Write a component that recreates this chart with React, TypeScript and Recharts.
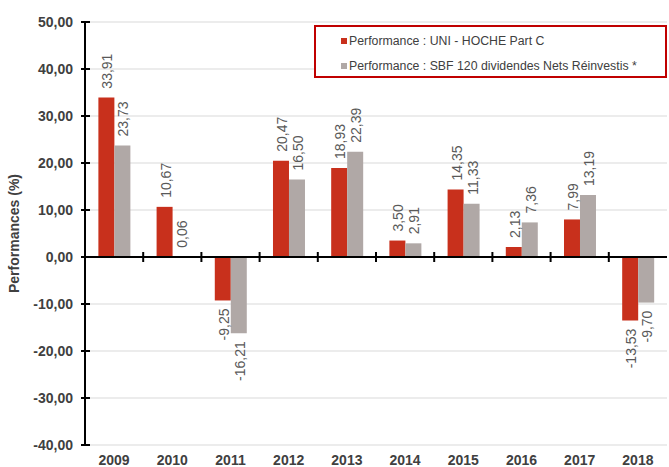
import React from 'react';
import {
  BarChart,
  Bar,
  XAxis,
  YAxis,
  CartesianGrid,
  ReferenceLine,
  LabelList,
} from 'recharts';

const years = ['2009', '2010', '2011', '2012', '2013', '2014', '2015', '2016', '2017', '2018'];
const uniHoche = [33.91, 10.67, -9.25, 20.47, 18.93, 3.5, 14.35, 2.13, 7.99, -13.53];
const sbf120 = [23.73, 0.06, -16.21, 16.5, 22.39, 2.91, 11.33, 7.36, 13.19, -9.7];
const yTicks = [-40, -30, -20, -10, 0, 10, 20, 30, 40, 50];

const seriesNames = {
  uni: 'Performance : UNI - HOCHE Part C',
  sbf: 'Performance : SBF 120 dividendes Nets Réinvestis *',
};

const RED = '#c8301c';
const GREY = '#b0a8a6';
const FONT = '"Liberation Sans", Arial, sans-serif';

const data = years.map((year, i) => ({ year, uni: uniHoche[i], sbf: sbf120[i] }));

const fmt = (v: number) => v.toFixed(2).replace('.', ',');

const YTick = (props: any) => {
  const { x, y, payload } = props;
  return (
    <g>
      <line x1={x - 4} y1={y} x2={x + 5} y2={y} stroke="#000" strokeWidth={2} />
      <text
        x={x - 12}
        y={y}
        textAnchor="end"
        dominantBaseline="central"
        fontFamily={FONT}
        fontSize={14}
        fontWeight="bold"
        fill="#404040"
      >
        {fmt(payload.value)}
      </text>
    </g>
  );
};

const BarLabel = (props: any) => {
  const { x, y, width, height, value } = props;
  const top = Math.min(y, y + height);
  const bottom = Math.max(y, y + height);
  const cx = x + width / 2 + 1;
  const positive = value >= 0;
  const ly = positive ? top - 9 : bottom + 8;
  return (
    <text
      x={cx}
      y={ly}
      transform={`rotate(-90 ${cx} ${ly})`}
      textAnchor={positive ? 'start' : 'end'}
      dominantBaseline="central"
      fontFamily={FONT}
      fontSize={14}
      fill="#595959"
    >
      {fmt(value)}
    </text>
  );
};

const ZeroLine = (props: any) => {
  const { x1, y1, x2, y2 } = props;
  const step = (x2 - x1) / years.length;
  return (
    <g>
      <line x1={x1} y1={y1} x2={x2} y2={y2} stroke="#000" strokeWidth={2} />
      {years.slice(1).map((_, i) => {
        const tx = x1 + step * (i + 1);
        return <line key={i} x1={tx} y1={y1 - 5} x2={tx} y2={y1 + 5} stroke="#000" strokeWidth={2} />;
      })}
    </g>
  );
};

const LegendBox = () => (
  <div
    style={{
      position: 'absolute',
      left: 314,
      top: 25,
      boxSizing: 'border-box',
      width: 353,
      height: 53,
      border: '2px solid #c00000',
      background: '#fff',
      fontFamily: FONT,
      fontSize: 12.3,
      color: '#404040',
      paddingLeft: 25,
      paddingTop: 1,
    }}
  >
    {[
      { name: seriesNames.uni, color: RED },
      { name: seriesNames.sbf, color: GREY },
    ].map((item) => (
      <div key={item.name} style={{ display: 'flex', alignItems: 'center', height: 25 }}>
        <span style={{ width: 6, height: 6, background: item.color, marginRight: 2, display: 'inline-block' }} />
        <span>{item.name}</span>
      </div>
    ))}
  </div>
);

export default function App() {
  return (
    <div style={{ position: 'absolute', left: 0, top: 0, width: 669, height: 467, background: '#fff' }}>
      <BarChart
        width={669}
        height={467}
        data={data}
        margin={{ top: 22, right: 2, left: 0, bottom: 0 }}
        barCategoryGap="23%"
        barGap={0}
      >
        <CartesianGrid vertical={false} stroke="#d9d9d9" />
        <XAxis
          dataKey="year"
          axisLine={false}
          tickLine={false}
          height={22}
          tickMargin={4}
          tick={{ fontFamily: FONT, fontSize: 14, fontWeight: 'bold', fill: '#404040' }}
        />
        <YAxis
          width={85}
          domain={[-40, 50]}
          ticks={yTicks}
          interval={0}
          axisLine={{ stroke: '#000', strokeWidth: 2 }}
          tickLine={false}
          tickSize={0}
          tickMargin={0}
          tick={<YTick />}
          label={{
            value: 'Performances (%)',
            angle: -90,
            position: 'insideLeft',
            offset: 14,
            style: { fontFamily: FONT, fontSize: 14, fontWeight: 'bold', fill: '#404040', textAnchor: 'middle' },
          }}
        />
        <ReferenceLine y={0} shape={<ZeroLine />} />
        <Bar dataKey="uni" name={seriesNames.uni} fill={RED} isAnimationActive={false}>
          <LabelList dataKey="uni" content={<BarLabel />} />
        </Bar>
        <Bar dataKey="sbf" name={seriesNames.sbf} fill={GREY} isAnimationActive={false}>
          <LabelList dataKey="sbf" content={<BarLabel />} />
        </Bar>
      </BarChart>
      <LegendBox />
    </div>
  );
}
